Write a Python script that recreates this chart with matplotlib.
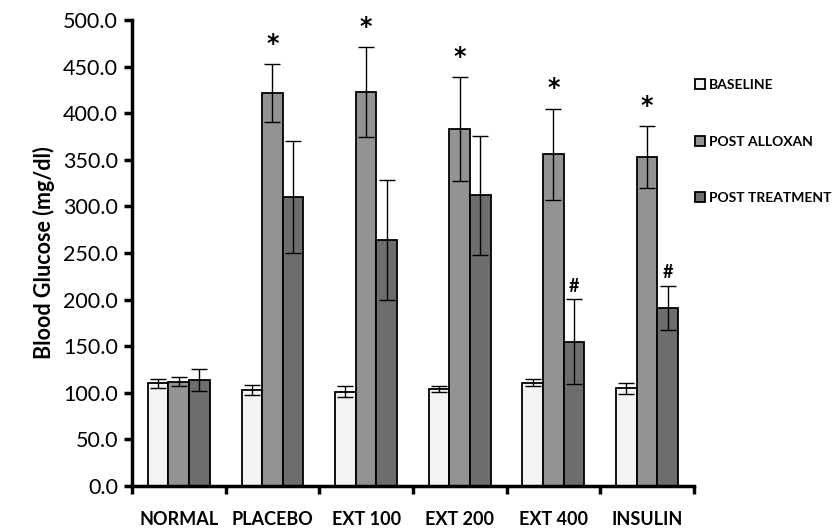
import matplotlib
matplotlib.use("Agg")
import matplotlib.pyplot as plt
import numpy as np

groups = ["NORMAL", "PLACEBO", "EXT 100", "EXT 200", "EXT 400", "INSULIN"]
series = ["BASELINE", "POST ALLOXAN", "POST TREATMENT"]
baseline = [110, 103, 101, 104, 111, 105]
baseline_err = [5, 5, 6, 3, 4, 6]
alloxan = [112, 422, 423, 383, 356, 353]
alloxan_err = [5, 31, 48, 56, 49, 33]
treatment = [114, 310, 264, 312, 155, 191]
treatment_err = [12, 60, 64, 64, 46, 24]
star_marks = [None, "*", "*", "*", "*", "*"]
hash_marks = [None, None, None, None, "#", "#"]
yticks = [0, 50, 100, 150, 200, 250, 300, 350, 400, 450, 500]

colors = ["#f3f3f3", "#939393", "#6d6d6d"]
plt.rcParams['font.family'] = ['Lato', 'DejaVu Sans']

fig = plt.figure(figsize=(8.39, 5.29), dpi=100)
ax = fig.add_axes([0.1573, 0.0813, 0.827 - 0.1573, 0.962 - 0.0813])

x = np.arange(len(groups))
w = 0.22
vals = [baseline, alloxan, treatment]
errs = [baseline_err, alloxan_err, treatment_err]
for k in range(3):
    ax.bar(x + (k - 1) * w, vals[k], w, color=colors[k], edgecolor="black",
           linewidth=1.3, label=series[k], zorder=2,
           yerr=errs[k], error_kw=dict(ecolor="black", elinewidth=1.0, capsize=6, capthick=1.0))

for i in range(len(groups)):
    if star_marks[i]:
        ax.annotate(star_marks[i], (x[i], alloxan[i] + alloxan_err[i]), xytext=(0, 6),
                    textcoords="offset points", ha="center", va="bottom",
                    fontsize=17, fontweight="bold", family="DejaVu Sans")
    if hash_marks[i]:
        ax.annotate(hash_marks[i], (x[i] + w, treatment[i] + treatment_err[i]), xytext=(0, 3),
                    textcoords="offset points", ha="center", va="bottom",
                    fontsize=13, fontweight="bold")

ax.set_xlim(-0.5, len(groups) - 0.5)
ax.set_ylim(0, 500)
ax.set_yticks(yticks)
ax.set_yticklabels([f"{v:.1f}" for v in yticks], fontsize=15.5)
ax.set_xticks(np.arange(len(groups) + 1) - 0.5)
ax.set_xticklabels([])
ax.set_xticks(x, minor=True)
ax.set_xticklabels(groups, minor=True, fontsize=13, fontweight="bold")
ax.tick_params(axis="x", which="minor", length=0, pad=18)
ax.tick_params(axis="x", which="major", direction="out", length=6, width=2.5)
ax.tick_params(axis="y", direction="out", length=6, width=2.5, pad=4)
for s in ["top", "right"]:
    ax.spines[s].set_visible(False)
for s in ["left", "bottom"]:
    ax.spines[s].set_linewidth(2.5)
ax.set_ylabel("Blood Glucose (mg/dl)", fontsize=15.5, fontweight="bold", labelpad=6)

leg = ax.legend(loc="upper left", bbox_to_anchor=(0.98, 0.9), frameon=False,
                handlelength=0.7, handleheight=0.7, handletextpad=0.3,
                labelspacing=3.2, prop=dict(size=10, weight="bold"))

fig.savefig("out.png", dpi=100)
